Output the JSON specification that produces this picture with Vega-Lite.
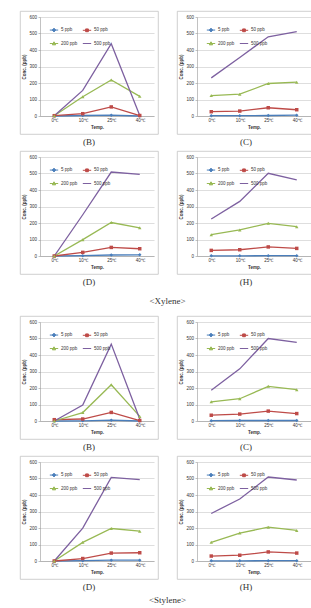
{
"$schema":"https://vega.github.io/schema/vega-lite/v6.json",
"padding":{"left":19,"top":10,"right":0,"bottom":0},
"background":"white",
"datasets":{"d":[
{"p":"XB","t":"0℃","s":"5 ppb","v":0},{"p":"XB","t":"10℃","s":"5 ppb","v":3},{"p":"XB","t":"25℃","s":"5 ppb","v":5},{"p":"XB","t":"40℃","s":"5 ppb","v":0},
{"p":"XB","t":"0℃","s":"50 ppb","v":2},{"p":"XB","t":"10℃","s":"50 ppb","v":14},{"p":"XB","t":"25℃","s":"50 ppb","v":55},{"p":"XB","t":"40℃","s":"50 ppb","v":3},
{"p":"XB","t":"0℃","s":"200 ppb","v":2},{"p":"XB","t":"10℃","s":"200 ppb","v":117},{"p":"XB","t":"25℃","s":"200 ppb","v":218},{"p":"XB","t":"40℃","s":"200 ppb","v":119},
{"p":"XB","t":"0℃","s":"500 ppb","v":2},{"p":"XB","t":"10℃","s":"500 ppb","v":155},{"p":"XB","t":"25℃","s":"500 ppb","v":438},{"p":"XB","t":"40℃","s":"500 ppb","v":3},
{"p":"XC","t":"0℃","s":"5 ppb","v":2},{"p":"XC","t":"10℃","s":"5 ppb","v":2},{"p":"XC","t":"25℃","s":"5 ppb","v":3},{"p":"XC","t":"40℃","s":"5 ppb","v":5},
{"p":"XC","t":"0℃","s":"50 ppb","v":26},{"p":"XC","t":"10℃","s":"50 ppb","v":30},{"p":"XC","t":"25℃","s":"50 ppb","v":50},{"p":"XC","t":"40℃","s":"50 ppb","v":38},
{"p":"XC","t":"0℃","s":"200 ppb","v":124},{"p":"XC","t":"10℃","s":"200 ppb","v":132},{"p":"XC","t":"25℃","s":"200 ppb","v":197},{"p":"XC","t":"40℃","s":"200 ppb","v":205},
{"p":"XC","t":"0℃","s":"500 ppb","v":231},{"p":"XC","t":"10℃","s":"500 ppb","v":355},{"p":"XC","t":"25℃","s":"500 ppb","v":480},{"p":"XC","t":"40℃","s":"500 ppb","v":512},
{"p":"XD","t":"0℃","s":"5 ppb","v":0},{"p":"XD","t":"10℃","s":"5 ppb","v":2},{"p":"XD","t":"25℃","s":"5 ppb","v":6},{"p":"XD","t":"40℃","s":"5 ppb","v":7},
{"p":"XD","t":"0℃","s":"50 ppb","v":0},{"p":"XD","t":"10℃","s":"50 ppb","v":22},{"p":"XD","t":"25℃","s":"50 ppb","v":52},{"p":"XD","t":"40℃","s":"50 ppb","v":44},
{"p":"XD","t":"0℃","s":"200 ppb","v":0},{"p":"XD","t":"10℃","s":"200 ppb","v":99},{"p":"XD","t":"25℃","s":"200 ppb","v":203},{"p":"XD","t":"40℃","s":"200 ppb","v":171},
{"p":"XD","t":"0℃","s":"500 ppb","v":0},{"p":"XD","t":"10℃","s":"500 ppb","v":250},{"p":"XD","t":"25℃","s":"500 ppb","v":509},{"p":"XD","t":"40℃","s":"500 ppb","v":495},
{"p":"XH","t":"0℃","s":"5 ppb","v":1},{"p":"XH","t":"10℃","s":"5 ppb","v":1},{"p":"XH","t":"25℃","s":"5 ppb","v":2},{"p":"XH","t":"40℃","s":"5 ppb","v":2},
{"p":"XH","t":"0℃","s":"50 ppb","v":34},{"p":"XH","t":"10℃","s":"50 ppb","v":38},{"p":"XH","t":"25℃","s":"50 ppb","v":55},{"p":"XH","t":"40℃","s":"50 ppb","v":46},
{"p":"XH","t":"0℃","s":"200 ppb","v":129},{"p":"XH","t":"10℃","s":"200 ppb","v":158},{"p":"XH","t":"25℃","s":"200 ppb","v":198},{"p":"XH","t":"40℃","s":"200 ppb","v":178},
{"p":"XH","t":"0℃","s":"500 ppb","v":224},{"p":"XH","t":"10℃","s":"500 ppb","v":331},{"p":"XH","t":"25℃","s":"500 ppb","v":501},{"p":"XH","t":"40℃","s":"500 ppb","v":461},
{"p":"SB","t":"0℃","s":"5 ppb","v":0},{"p":"SB","t":"10℃","s":"5 ppb","v":1},{"p":"SB","t":"25℃","s":"5 ppb","v":5},{"p":"SB","t":"40℃","s":"5 ppb","v":0},
{"p":"SB","t":"0℃","s":"50 ppb","v":8},{"p":"SB","t":"10℃","s":"50 ppb","v":12},{"p":"SB","t":"25℃","s":"50 ppb","v":52},{"p":"SB","t":"40℃","s":"50 ppb","v":3},
{"p":"SB","t":"0℃","s":"200 ppb","v":0},{"p":"SB","t":"10℃","s":"200 ppb","v":51},{"p":"SB","t":"25℃","s":"200 ppb","v":220},{"p":"SB","t":"40℃","s":"200 ppb","v":28},
{"p":"SB","t":"0℃","s":"500 ppb","v":0},{"p":"SB","t":"10℃","s":"500 ppb","v":97},{"p":"SB","t":"25℃","s":"500 ppb","v":466},{"p":"SB","t":"40℃","s":"500 ppb","v":12},
{"p":"SC","t":"0℃","s":"5 ppb","v":2},{"p":"SC","t":"10℃","s":"5 ppb","v":3},{"p":"SC","t":"25℃","s":"5 ppb","v":3},{"p":"SC","t":"40℃","s":"5 ppb","v":3},
{"p":"SC","t":"0℃","s":"50 ppb","v":35},{"p":"SC","t":"10℃","s":"50 ppb","v":42},{"p":"SC","t":"25℃","s":"50 ppb","v":60},{"p":"SC","t":"40℃","s":"50 ppb","v":45},
{"p":"SC","t":"0℃","s":"200 ppb","v":116},{"p":"SC","t":"10℃","s":"200 ppb","v":135},{"p":"SC","t":"25℃","s":"200 ppb","v":210},{"p":"SC","t":"40℃","s":"200 ppb","v":190},
{"p":"SC","t":"0℃","s":"500 ppb","v":186},{"p":"SC","t":"10℃","s":"500 ppb","v":316},{"p":"SC","t":"25℃","s":"500 ppb","v":500},{"p":"SC","t":"40℃","s":"500 ppb","v":476},
{"p":"SD","t":"0℃","s":"5 ppb","v":0},{"p":"SD","t":"10℃","s":"5 ppb","v":2},{"p":"SD","t":"25℃","s":"5 ppb","v":5},{"p":"SD","t":"40℃","s":"5 ppb","v":5},
{"p":"SD","t":"0℃","s":"50 ppb","v":0},{"p":"SD","t":"10℃","s":"50 ppb","v":15},{"p":"SD","t":"25℃","s":"50 ppb","v":48},{"p":"SD","t":"40℃","s":"50 ppb","v":50},
{"p":"SD","t":"0℃","s":"200 ppb","v":0},{"p":"SD","t":"10℃","s":"200 ppb","v":113},{"p":"SD","t":"25℃","s":"200 ppb","v":197},{"p":"SD","t":"40℃","s":"200 ppb","v":181},
{"p":"SD","t":"0℃","s":"500 ppb","v":0},{"p":"SD","t":"10℃","s":"500 ppb","v":199},{"p":"SD","t":"25℃","s":"500 ppb","v":507},{"p":"SD","t":"40℃","s":"500 ppb","v":493},
{"p":"SH","t":"0℃","s":"5 ppb","v":1},{"p":"SH","t":"10℃","s":"5 ppb","v":1},{"p":"SH","t":"25℃","s":"5 ppb","v":2},{"p":"SH","t":"40℃","s":"5 ppb","v":2},
{"p":"SH","t":"0℃","s":"50 ppb","v":30},{"p":"SH","t":"10℃","s":"50 ppb","v":35},{"p":"SH","t":"25℃","s":"50 ppb","v":55},{"p":"SH","t":"40℃","s":"50 ppb","v":48},
{"p":"SH","t":"0℃","s":"200 ppb","v":113},{"p":"SH","t":"10℃","s":"200 ppb","v":169},{"p":"SH","t":"25℃","s":"200 ppb","v":205},{"p":"SH","t":"40℃","s":"200 ppb","v":185},
{"p":"SH","t":"0℃","s":"500 ppb","v":288},{"p":"SH","t":"10℃","s":"500 ppb","v":376},{"p":"SH","t":"25℃","s":"500 ppb","v":509},{"p":"SH","t":"40℃","s":"500 ppb","v":491}
]},
"data":{"name":"d"},
"spacing":8,
"resolve":{"legend":{"color":"independent"}},
"vconcat":[
{"title":{"text":"<Xylene>","offset":10},"spacing":2,"resolve":{"legend":{"color":"independent"}},"vconcat":[
{"spacing":17,"resolve":{"legend":{"color":"independent"}},"hconcat":[
{"width":138,"height":123,"title":"(B)","transform":[{"filter":"datum.p==='XB'"}],
"encoding":{"x":{"field":"t","type":"ordinal","sort":["0℃","10℃","25℃","40℃"],"scale":{"type":"point","padding":0.5,"range":[20,134]},"axis":{"title":"Temp.","labelAngle":0,"grid":false,"ticks":false,"offset":-18}},"y":{"field":"v","type":"quantitative","scale":{"domain":[0,600],"range":[105,6]},"axis":{"title":"Conc. (ppb)","values":[0,100,200,300,400,500,600],"offset":-20}}},
"layer":[
{"mark":{"type":"line","strokeWidth":1.3},"encoding":{"color":{"field":"s","type":"nominal","scale":{"domain":["5 ppb","50 ppb","200 ppb","500 ppb"],"range":["#4A7EBB","#BE4B48","#98B954","#7D60A0"]},"legend":{"title":null,"orient":"none","legendX":29,"legendY":14,"direction":"horizontal","columns":2,"padding":0,"labelFontSize":4.5,"symbolSize":70,"symbolStrokeWidth":1,"rowPadding":4.5,"columnPadding":2,"labelOffset":2,"encode":{"symbols":{"update":{"shape":{"signal":"datum.value==='5 ppb'?'M-1,0H1M0,-0.45L0.4,0L0,0.45L-0.4,0Z':datum.value==='50 ppb'?'M-1,0H1M-0.33,-0.33H0.33V0.33H-0.33Z':datum.value==='200 ppb'?'M-1,0H1M0,-0.4L0.4,0.32L-0.4,0.32Z':'M-1,0H1'"},"fill":{"signal":"datum.value==='5 ppb'?'#4A7EBB':datum.value==='50 ppb'?'#BE4B48':datum.value==='200 ppb'?'#98B954':'transparent'"}}}}}}}},
{"transform":[{"filter":"datum.s!=='500 ppb'"}],"mark":{"type":"point","filled":true,"opacity":1,"size":12},"encoding":{"color":{"field":"s","type":"nominal"},"shape":{"field":"s","type":"nominal","scale":{"domain":["5 ppb","50 ppb","200 ppb"],"range":["diamond","square","triangle-up"]},"legend":null}}}
]},
{"width":138,"height":123,"title":"(C)","transform":[{"filter":"datum.p==='XC'"}],
"encoding":{"x":{"field":"t","type":"ordinal","sort":["0℃","10℃","25℃","40℃"],"scale":{"type":"point","padding":0.5,"range":[20,134]},"axis":{"title":"Temp.","labelAngle":0,"grid":false,"ticks":false,"offset":-18}},"y":{"field":"v","type":"quantitative","scale":{"domain":[0,600],"range":[105,6]},"axis":{"title":"Conc. (ppb)","values":[0,100,200,300,400,500,600],"offset":-20}}},
"layer":[
{"mark":{"type":"line","strokeWidth":1.3},"encoding":{"color":{"field":"s","type":"nominal","scale":{"domain":["5 ppb","50 ppb","200 ppb","500 ppb"],"range":["#4A7EBB","#BE4B48","#98B954","#7D60A0"]},"legend":{"title":null,"orient":"none","legendX":29,"legendY":14,"direction":"horizontal","columns":2,"padding":0,"labelFontSize":4.5,"symbolSize":70,"symbolStrokeWidth":1,"rowPadding":4.5,"columnPadding":2,"labelOffset":2,"encode":{"symbols":{"update":{"shape":{"signal":"datum.value==='5 ppb'?'M-1,0H1M0,-0.45L0.4,0L0,0.45L-0.4,0Z':datum.value==='50 ppb'?'M-1,0H1M-0.33,-0.33H0.33V0.33H-0.33Z':datum.value==='200 ppb'?'M-1,0H1M0,-0.4L0.4,0.32L-0.4,0.32Z':'M-1,0H1'"},"fill":{"signal":"datum.value==='5 ppb'?'#4A7EBB':datum.value==='50 ppb'?'#BE4B48':datum.value==='200 ppb'?'#98B954':'transparent'"}}}}}}}},
{"transform":[{"filter":"datum.s!=='500 ppb'"}],"mark":{"type":"point","filled":true,"opacity":1,"size":12},"encoding":{"color":{"field":"s","type":"nominal"},"shape":{"field":"s","type":"nominal","scale":{"domain":["5 ppb","50 ppb","200 ppb"],"range":["diamond","square","triangle-up"]},"legend":null}}}
]}
]},
{"spacing":17,"resolve":{"legend":{"color":"independent"}},"hconcat":[
{"width":138,"height":123,"title":"(D)","transform":[{"filter":"datum.p==='XD'"}],
"encoding":{"x":{"field":"t","type":"ordinal","sort":["0℃","10℃","25℃","40℃"],"scale":{"type":"point","padding":0.5,"range":[20,134]},"axis":{"title":"Temp.","labelAngle":0,"grid":false,"ticks":false,"offset":-18}},"y":{"field":"v","type":"quantitative","scale":{"domain":[0,600],"range":[105,6]},"axis":{"title":"Conc. (ppb)","values":[0,100,200,300,400,500,600],"offset":-20}}},
"layer":[
{"mark":{"type":"line","strokeWidth":1.3},"encoding":{"color":{"field":"s","type":"nominal","scale":{"domain":["5 ppb","50 ppb","200 ppb","500 ppb"],"range":["#4A7EBB","#BE4B48","#98B954","#7D60A0"]},"legend":{"title":null,"orient":"none","legendX":29,"legendY":14,"direction":"horizontal","columns":2,"padding":0,"labelFontSize":4.5,"symbolSize":70,"symbolStrokeWidth":1,"rowPadding":4.5,"columnPadding":2,"labelOffset":2,"encode":{"symbols":{"update":{"shape":{"signal":"datum.value==='5 ppb'?'M-1,0H1M0,-0.45L0.4,0L0,0.45L-0.4,0Z':datum.value==='50 ppb'?'M-1,0H1M-0.33,-0.33H0.33V0.33H-0.33Z':datum.value==='200 ppb'?'M-1,0H1M0,-0.4L0.4,0.32L-0.4,0.32Z':'M-1,0H1'"},"fill":{"signal":"datum.value==='5 ppb'?'#4A7EBB':datum.value==='50 ppb'?'#BE4B48':datum.value==='200 ppb'?'#98B954':'transparent'"}}}}}}}},
{"transform":[{"filter":"datum.s!=='500 ppb'"}],"mark":{"type":"point","filled":true,"opacity":1,"size":12},"encoding":{"color":{"field":"s","type":"nominal"},"shape":{"field":"s","type":"nominal","scale":{"domain":["5 ppb","50 ppb","200 ppb"],"range":["diamond","square","triangle-up"]},"legend":null}}}
]},
{"width":138,"height":123,"title":"(H)","transform":[{"filter":"datum.p==='XH'"}],
"encoding":{"x":{"field":"t","type":"ordinal","sort":["0℃","10℃","25℃","40℃"],"scale":{"type":"point","padding":0.5,"range":[20,134]},"axis":{"title":"Temp.","labelAngle":0,"grid":false,"ticks":false,"offset":-18}},"y":{"field":"v","type":"quantitative","scale":{"domain":[0,600],"range":[105,6]},"axis":{"title":"Conc. (ppb)","values":[0,100,200,300,400,500,600],"offset":-20}}},
"layer":[
{"mark":{"type":"line","strokeWidth":1.3},"encoding":{"color":{"field":"s","type":"nominal","scale":{"domain":["5 ppb","50 ppb","200 ppb","500 ppb"],"range":["#4A7EBB","#BE4B48","#98B954","#7D60A0"]},"legend":{"title":null,"orient":"none","legendX":29,"legendY":14,"direction":"horizontal","columns":2,"padding":0,"labelFontSize":4.5,"symbolSize":70,"symbolStrokeWidth":1,"rowPadding":4.5,"columnPadding":2,"labelOffset":2,"encode":{"symbols":{"update":{"shape":{"signal":"datum.value==='5 ppb'?'M-1,0H1M0,-0.45L0.4,0L0,0.45L-0.4,0Z':datum.value==='50 ppb'?'M-1,0H1M-0.33,-0.33H0.33V0.33H-0.33Z':datum.value==='200 ppb'?'M-1,0H1M0,-0.4L0.4,0.32L-0.4,0.32Z':'M-1,0H1'"},"fill":{"signal":"datum.value==='5 ppb'?'#4A7EBB':datum.value==='50 ppb'?'#BE4B48':datum.value==='200 ppb'?'#98B954':'transparent'"}}}}}}}},
{"transform":[{"filter":"datum.s!=='500 ppb'"}],"mark":{"type":"point","filled":true,"opacity":1,"size":12},"encoding":{"color":{"field":"s","type":"nominal"},"shape":{"field":"s","type":"nominal","scale":{"domain":["5 ppb","50 ppb","200 ppb"],"range":["diamond","square","triangle-up"]},"legend":null}}}
]}
]}
]},
{"title":{"text":"<Stylene>","offset":4},"spacing":2,"resolve":{"legend":{"color":"independent"}},"vconcat":[
{"spacing":17,"resolve":{"legend":{"color":"independent"}},"hconcat":[
{"width":138,"height":123,"title":"(B)","transform":[{"filter":"datum.p==='SB'"}],
"encoding":{"x":{"field":"t","type":"ordinal","sort":["0℃","10℃","25℃","40℃"],"scale":{"type":"point","padding":0.5,"range":[20,134]},"axis":{"title":"Temp.","labelAngle":0,"grid":false,"ticks":false,"offset":-18}},"y":{"field":"v","type":"quantitative","scale":{"domain":[0,600],"range":[105,6]},"axis":{"title":"Conc. (ppb)","values":[0,100,200,300,400,500,600],"offset":-20}}},
"layer":[
{"mark":{"type":"line","strokeWidth":1.3},"encoding":{"color":{"field":"s","type":"nominal","scale":{"domain":["5 ppb","50 ppb","200 ppb","500 ppb"],"range":["#4A7EBB","#BE4B48","#98B954","#7D60A0"]},"legend":{"title":null,"orient":"none","legendX":29,"legendY":14,"direction":"horizontal","columns":2,"padding":0,"labelFontSize":4.5,"symbolSize":70,"symbolStrokeWidth":1,"rowPadding":4.5,"columnPadding":2,"labelOffset":2,"encode":{"symbols":{"update":{"shape":{"signal":"datum.value==='5 ppb'?'M-1,0H1M0,-0.45L0.4,0L0,0.45L-0.4,0Z':datum.value==='50 ppb'?'M-1,0H1M-0.33,-0.33H0.33V0.33H-0.33Z':datum.value==='200 ppb'?'M-1,0H1M0,-0.4L0.4,0.32L-0.4,0.32Z':'M-1,0H1'"},"fill":{"signal":"datum.value==='5 ppb'?'#4A7EBB':datum.value==='50 ppb'?'#BE4B48':datum.value==='200 ppb'?'#98B954':'transparent'"}}}}}}}},
{"transform":[{"filter":"datum.s!=='500 ppb'"}],"mark":{"type":"point","filled":true,"opacity":1,"size":12},"encoding":{"color":{"field":"s","type":"nominal"},"shape":{"field":"s","type":"nominal","scale":{"domain":["5 ppb","50 ppb","200 ppb"],"range":["diamond","square","triangle-up"]},"legend":null}}}
]},
{"width":138,"height":123,"title":"(C)","transform":[{"filter":"datum.p==='SC'"}],
"encoding":{"x":{"field":"t","type":"ordinal","sort":["0℃","10℃","25℃","40℃"],"scale":{"type":"point","padding":0.5,"range":[20,134]},"axis":{"title":"Temp.","labelAngle":0,"grid":false,"ticks":false,"offset":-18}},"y":{"field":"v","type":"quantitative","scale":{"domain":[0,600],"range":[105,6]},"axis":{"title":"Conc. (ppb)","values":[0,100,200,300,400,500,600],"offset":-20}}},
"layer":[
{"mark":{"type":"line","strokeWidth":1.3},"encoding":{"color":{"field":"s","type":"nominal","scale":{"domain":["5 ppb","50 ppb","200 ppb","500 ppb"],"range":["#4A7EBB","#BE4B48","#98B954","#7D60A0"]},"legend":{"title":null,"orient":"none","legendX":29,"legendY":14,"direction":"horizontal","columns":2,"padding":0,"labelFontSize":4.5,"symbolSize":70,"symbolStrokeWidth":1,"rowPadding":4.5,"columnPadding":2,"labelOffset":2,"encode":{"symbols":{"update":{"shape":{"signal":"datum.value==='5 ppb'?'M-1,0H1M0,-0.45L0.4,0L0,0.45L-0.4,0Z':datum.value==='50 ppb'?'M-1,0H1M-0.33,-0.33H0.33V0.33H-0.33Z':datum.value==='200 ppb'?'M-1,0H1M0,-0.4L0.4,0.32L-0.4,0.32Z':'M-1,0H1'"},"fill":{"signal":"datum.value==='5 ppb'?'#4A7EBB':datum.value==='50 ppb'?'#BE4B48':datum.value==='200 ppb'?'#98B954':'transparent'"}}}}}}}},
{"transform":[{"filter":"datum.s!=='500 ppb'"}],"mark":{"type":"point","filled":true,"opacity":1,"size":12},"encoding":{"color":{"field":"s","type":"nominal"},"shape":{"field":"s","type":"nominal","scale":{"domain":["5 ppb","50 ppb","200 ppb"],"range":["diamond","square","triangle-up"]},"legend":null}}}
]}
]},
{"spacing":17,"resolve":{"legend":{"color":"independent"}},"hconcat":[
{"width":138,"height":123,"title":"(D)","transform":[{"filter":"datum.p==='SD'"}],
"encoding":{"x":{"field":"t","type":"ordinal","sort":["0℃","10℃","25℃","40℃"],"scale":{"type":"point","padding":0.5,"range":[20,134]},"axis":{"title":"Temp.","labelAngle":0,"grid":false,"ticks":false,"offset":-18}},"y":{"field":"v","type":"quantitative","scale":{"domain":[0,600],"range":[105,6]},"axis":{"title":"Conc. (ppb)","values":[0,100,200,300,400,500,600],"offset":-20}}},
"layer":[
{"mark":{"type":"line","strokeWidth":1.3},"encoding":{"color":{"field":"s","type":"nominal","scale":{"domain":["5 ppb","50 ppb","200 ppb","500 ppb"],"range":["#4A7EBB","#BE4B48","#98B954","#7D60A0"]},"legend":{"title":null,"orient":"none","legendX":29,"legendY":14,"direction":"horizontal","columns":2,"padding":0,"labelFontSize":4.5,"symbolSize":70,"symbolStrokeWidth":1,"rowPadding":4.5,"columnPadding":2,"labelOffset":2,"encode":{"symbols":{"update":{"shape":{"signal":"datum.value==='5 ppb'?'M-1,0H1M0,-0.45L0.4,0L0,0.45L-0.4,0Z':datum.value==='50 ppb'?'M-1,0H1M-0.33,-0.33H0.33V0.33H-0.33Z':datum.value==='200 ppb'?'M-1,0H1M0,-0.4L0.4,0.32L-0.4,0.32Z':'M-1,0H1'"},"fill":{"signal":"datum.value==='5 ppb'?'#4A7EBB':datum.value==='50 ppb'?'#BE4B48':datum.value==='200 ppb'?'#98B954':'transparent'"}}}}}}}},
{"transform":[{"filter":"datum.s!=='500 ppb'"}],"mark":{"type":"point","filled":true,"opacity":1,"size":12},"encoding":{"color":{"field":"s","type":"nominal"},"shape":{"field":"s","type":"nominal","scale":{"domain":["5 ppb","50 ppb","200 ppb"],"range":["diamond","square","triangle-up"]},"legend":null}}}
]},
{"width":138,"height":123,"title":"(H)","transform":[{"filter":"datum.p==='SH'"}],
"encoding":{"x":{"field":"t","type":"ordinal","sort":["0℃","10℃","25℃","40℃"],"scale":{"type":"point","padding":0.5,"range":[20,134]},"axis":{"title":"Temp.","labelAngle":0,"grid":false,"ticks":false,"offset":-18}},"y":{"field":"v","type":"quantitative","scale":{"domain":[0,600],"range":[105,6]},"axis":{"title":"Conc. (ppb)","values":[0,100,200,300,400,500,600],"offset":-20}}},
"layer":[
{"mark":{"type":"line","strokeWidth":1.3},"encoding":{"color":{"field":"s","type":"nominal","scale":{"domain":["5 ppb","50 ppb","200 ppb","500 ppb"],"range":["#4A7EBB","#BE4B48","#98B954","#7D60A0"]},"legend":{"title":null,"orient":"none","legendX":29,"legendY":14,"direction":"horizontal","columns":2,"padding":0,"labelFontSize":4.5,"symbolSize":70,"symbolStrokeWidth":1,"rowPadding":4.5,"columnPadding":2,"labelOffset":2,"encode":{"symbols":{"update":{"shape":{"signal":"datum.value==='5 ppb'?'M-1,0H1M0,-0.45L0.4,0L0,0.45L-0.4,0Z':datum.value==='50 ppb'?'M-1,0H1M-0.33,-0.33H0.33V0.33H-0.33Z':datum.value==='200 ppb'?'M-1,0H1M0,-0.4L0.4,0.32L-0.4,0.32Z':'M-1,0H1'"},"fill":{"signal":"datum.value==='5 ppb'?'#4A7EBB':datum.value==='50 ppb'?'#BE4B48':datum.value==='200 ppb'?'#98B954':'transparent'"}}}}}}}},
{"transform":[{"filter":"datum.s!=='500 ppb'"}],"mark":{"type":"point","filled":true,"opacity":1,"size":12},"encoding":{"color":{"field":"s","type":"nominal"},"shape":{"field":"s","type":"nominal","scale":{"domain":["5 ppb","50 ppb","200 ppb"],"range":["diamond","square","triangle-up"]},"legend":null}}}
]}
]}
]}
],
"config":{
"view":{"stroke":"#c4c4c4","strokeWidth":0.8},
"font":"Liberation Sans",
"axis":{"labelFontSize":4.5,"titleFontSize":4.5,"titleFontWeight":"bold","labelColor":"#333","titleColor":"#333","gridColor":"#c8c8c8","gridWidth":0.6,"domainColor":"#999","domainWidth":0.6,"tickColor":"#999","tickWidth":0.6,"tickSize":2,"labelPadding":1.5,"titlePadding":2},
"legend":{"labelColor":"#333","labelFont":"Liberation Sans"},
"title":{"orient":"bottom","font":"Liberation Serif","fontSize":9,"fontWeight":"normal","color":"#333","offset":4,"frame":"bounds","anchor":"middle"}
}
}
